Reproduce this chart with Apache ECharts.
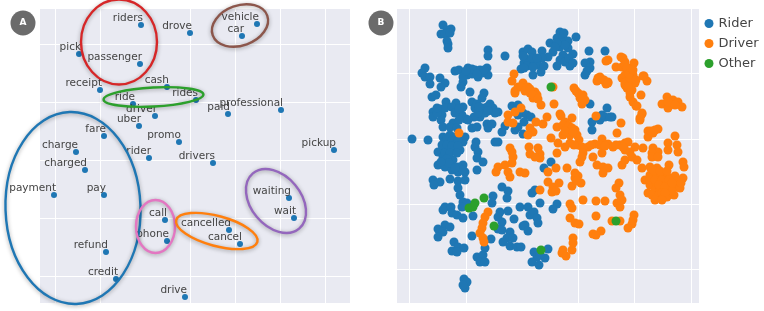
<!DOCTYPE html>
<html><head><meta charset="utf-8">
<style>html,body{margin:0;padding:0;background:#fff}#c{width:764px;height:311px}</style>
<script src="https://cdn.jsdelivr.net/npm/echarts@6/dist/echarts.min.js"></script>
</head><body><div id="c"></div>
<script>
const words = ['riders','drove','pick','passenger','receipt','cash','rides','ride','driver','uber','fare','promo','charge','rider','drivers','charged','payment','pay','call','phone','refund','credit','drive','vehicle','car','paid','professional','pickup','waiting','wait','cancelled','cancel'];
const wordX = [101,150,39,100,60,127,156,93,115,99,64,139,36,109,173,45,14,64,125,127,66,76,145,217,202,188,241,294,249,254,189,200];
const wordY = [278,270,249,239,213,216,203,199,187,177,167,161,151,145,140,133,108,108,83,62,51,24,6,279,267,189,193,153,105,85,73,59];

// Hand-drawn circles around word groups: centre, radii, tilt in degrees, colour
const circleX = [79,200,113.5,33,115.5,176.8,236];
const circleY = [261,277.5,206,95,76.5,72,102];
const circleRx = [38,29,50,67.5,19.5,42,36];
const circleRy = [42.5,20,9.5,96,26.5,15,25];
const circleTilt = [0,20,3,2,0,-15,-50];
const circleColor = ['#d62728','#8c564b','#2ca02c','#1f77b4','#e377c2','#ff7f0e','#9467bd'];

const riderPts = [[46,278],[50,273],[54,274],[51,270],[44,269],[48,269],[53,270],[50,262],[51,259],[51,255],[91,253],[91,247],[28,235],[25,230],[28,226],[33,226],[33,219],[58,232],[62,233],[43,225],[48,220],[44,216],[35,206],[39,208],[49,201],[36,191],[36,186],[43,194],[45,188],[48,195],[44,183],[59,200],[55,196],[66,196],[65,188],[58,190],[56,180],[69,184],[46,176],[53,176],[60,175],[71,235],[70,228],[66,221],[64,216],[73,211],[78,233],[83,233],[81,226],[90,235],[91,228],[85,230],[87,210],[85,205],[75,201],[78,195],[85,195],[93,199],[96,195],[83,186],[77,186],[88,190],[71,183],[75,175],[80,176],[90,179],[91,175],[95,179],[15,164],[31,163],[46,166],[53,168],[58,166],[68,166],[66,161],[48,161],[53,161],[58,160],[45,153],[51,155],[58,153],[63,153],[41,151],[79,161],[78,156],[81,151],[98,161],
[46,146],[56,143],[41,138],[48,136],[66,138],[68,131],[61,131],[55,133],[80,145],[86,141],[80,133],[36,123],[43,121],[37,118],[53,124],[61,122],[68,123],[61,115],[63,108],[66,101],[70,100],[65,96],[105,116],[111,112],[110,105],[96,107],[95,100],[48,96],[54,96],[46,93],[55,90],[60,88],[66,85],[76,87],[103,91],[111,92],[101,86],[105,81],[117,84],[123,96],[48,78],[53,76],[41,74],[46,71],[41,66],[126,77],[101,74],[105,73],[75,67],[94,64],[113,71],[110,65],[106,61],[116,65],[113,57],[120,56],[124,56],[57,61],[61,56],[67,55],[55,52],[60,51],[88,55],[80,46],[86,48],[83,41],[88,41],[67,24],[70,21],[68,15],[66,18],
[163,271],[160,265],[166,265],[171,262],[179,266],[153,260],[163,256],[171,255],[176,249],[108,247],[126,251],[131,254],[135,251],[145,252],[156,251],[166,248],[151,246],[145,245],[128,245],[127,240],[138,241],[133,240],[141,238],[124,234],[136,228],[144,231],[147,237],[160,237],[163,243],[168,241],[173,237],[192,252],[208,252],[193,241],[188,240],[193,235],[190,232],[188,228],[193,199],[210,195],[208,186],[215,186],[203,186],[203,183],[195,181],[195,173],[115,197],[121,198],[126,190],[121,188],[130,188],[134,186],[127,181],[118,173],[121,176],[126,169],[108,177],[105,171],[101,161],[101,191],[98,190],[154,141],[147,135],[138,113],[135,110],[143,100],[160,99],[156,94],[131,96],[133,88],[137,91],[140,85],[141,80],[128,78],[131,72],[137,51],[151,54],[140,46],[148,45],[135,41],[142,38],[143,48],[205,188],[213,186],
[50,165],[55,162],[61,163],[45,158],[50,158],[55,157],[61,157],[48,150],[53,150],[60,150],[50,144],[52,140],[44,141],[61,136],[66,133],[58,135],[80,199],[90,196],[81,190],[91,192],[82,196],[40,190],[40,195],[62,194],[62,183],[75,229],[75,234],[87,233],[66,226],[80,229],[69,232],[130,243],[126,247],[135,245],[140,245],[130,237],[136,236],[127,235],[165,260],[168,258],[160,260],[167,270],[158,256],[172,245],[176,240]];

const driverPts = [[62,170],[91,91],[88,86],[86,80],[85,75],[83,70],[86,65],[87,61],[116,146],[115,140],[108,138],[101,136],[99,131],[111,131],[113,126],[123,131],[211,243],[209,242],[224,246],[219,236],[225,236],[117,229],[115,222],[126,220],[121,216],[118,212],[131,216],[133,210],[138,211],[136,205],[140,208],[144,198],[118,210],[157,199],[156,216],[177,215],[181,210],[186,208],[183,205],[188,203],[185,199],[201,225],[206,223],[211,221],[209,219],[200,222],[225,225],[228,218],[199,187],[224,180],[220,170],[124,195],[118,191],[111,188],[111,181],[116,180],[133,175],[136,171],[131,168],[139,181],[146,179],[150,186],[163,189],[164,187],[175,185],[168,181],[160,176],[168,175],[178,173],[166,168],[173,168],[180,168],[154,165],[161,160],[173,160],[168,156],[181,158],[185,156],[191,156],[198,159],[205,164],[211,159],[216,156],[223,158],[228,160],[113,155],[115,151],[132,156],[141,155],[133,149],[143,149],[160,150],[186,150],[205,150],
[228,241],[237,240],[231,235],[236,228],[228,228],[247,227],[250,222],[238,220],[231,223],[230,215],[235,213],[244,208],[233,206],[236,201],[240,197],[228,220],[270,206],[265,199],[271,195],[276,203],[281,201],[285,196],[271,201],[278,198],[245,189],[243,183],[261,174],[251,172],[256,170],[251,166],[278,167],[271,160],[280,158],[281,151],[271,153],[231,161],[238,156],[246,155],[256,155],[261,151],[233,151],[228,153],[255,150],
[128,130],[151,131],[159,135],[170,135],[143,145],[138,146],[183,141],[185,146],[196,146],[200,138],[206,136],[211,135],[206,130],[225,138],[228,143],[235,146],[245,135],[240,143],[255,146],[261,146],[181,127],[178,125],[184,120],[175,117],[151,121],[156,116],[162,120],[155,111],[159,112],[143,113],[186,103],[199,102],[208,102],[173,99],[175,95],[222,120],[219,115],[223,108],[225,103],[220,100],[223,96],[173,85],[178,80],[182,79],[199,87],[215,82],[223,82],[237,88],[236,83],[235,79],[231,75],[196,69],[204,72],[199,68],[176,65],[176,60],[175,53],[166,53],[165,50],[169,47],
[253,136],[260,135],[272,138],[286,141],[287,136],[248,123],[256,128],[265,128],[271,126],[278,127],[286,125],[253,118],[260,118],[266,120],[273,118],[280,116],[283,115],[251,110],[258,113],[263,113],[270,113],[265,106],[270,106],[277,108],[261,123],[268,123],
[226,245],[228,238],[235,231],[246,227],[235,223],[231,216],[233,210],[239,197],[245,190],[243,185],[207,223],[211,220],[203,226],
[253,128],[260,128],[253,123],[258,123],[265,123],[272,123],[262,118],[268,116],[275,112],[255,108],[262,108],[265,110],[268,110],[256,133],[263,132],[270,132],[280,122],[284,120],[275,120],[258,103],[265,103],[124,216],[128,212],[133,214],[136,208],[141,204],[179,212],[183,208],[186,204],[166,178],[172,177],[175,175],[168,172],[176,171],[182,163],[177,158],[194,158],[203,158],[208,157],[219,158],[226,156],[178,130],[180,122],[254,172],[258,173],[230,235],[233,225],[232,229],[236,233],[239,223]];

const otherPts = [[72,95],[76,96],[78,100],[87,105],[97,77],[154,216],[144,53],[219,82]];

const gridAX = [15,60,150.5,195.7,240.4,285.3];
const gridAY = [27,85,143,201,259];
const gridBX = [12.6,68.8,181,237.5,294];
const gridBY = [34,99,164,230];

const panelTags = ['A','B'];
const textFont = '"DejaVu Sans", sans-serif';

function axis(idx, max, ticks){
  return {type:'value', gridIndex:idx, min:0, max:max, show:true,
    axisLine:{show:false}, axisLabel:{show:false},
    axisTick:{show:false, customValues:ticks},
    splitLine:{show:true, lineStyle:{color:'#ffffff', width:1}}};
}

const chart = echarts.init(document.getElementById('c'), null, {renderer:'canvas'});
chart.setOption({
  animation:false,
  backgroundColor:'#fff',
  textStyle:{fontFamily:textFont},
  grid:[
    {left:40, top:9, width:310, height:294, show:true, backgroundColor:'#e9eaf2', borderWidth:0},
    {left:397, top:9, width:302, height:294, show:true, backgroundColor:'#e9eaf2', borderWidth:0}
  ],
  xAxis:[axis(0,310,gridAX), axis(1,302,gridBX)],
  yAxis:[axis(0,294,gridAY), axis(1,294,gridBY)],
  legend:{
    data:['Rider','Driver','Other'], orient:'vertical', left:699.5, top:12,
    itemWidth:9, itemHeight:9, itemGap:7, icon:'circle',
    textStyle:{fontSize:13, color:'#444', fontFamily:textFont}
  },
  series:[
    {type:'scatter', name:'Words', xAxisIndex:0, yAxisIndex:0, symbolSize:6, z:3,
     itemStyle:{color:'#1f77b4', opacity:1},
     data:words.map((w,i)=>({name:w, value:[wordX[i],wordY[i]]})),
     label:{show:true, position:'left', distance:0, formatter:p=>p.name,
       fontSize:10.5, color:'#444', fontFamily:textFont},
     labelLayout:{hideOverlap:false, dx:5, dy:-7}},
    {type:'custom', name:'Circles', xAxisIndex:0, yAxisIndex:0, z:5, silent:true, clip:false,
     data:circleX.map((x,i)=>[x,circleY[i],circleRx[i],circleRy[i],circleTilt[i],i]),
     renderItem:(params,api)=>{
       const c = api.coord([api.value(0),api.value(1)]);
       const s = api.size([api.value(2),api.value(3)]);
       return {type:'ellipse', x:c[0], y:c[1],
         rotation:api.value(4)*Math.PI/180,
         shape:{cx:0, cy:0, rx:s[0], ry:s[1]},
         style:{fill:'none', stroke:circleColor[api.value(5)], lineWidth:2.4,
           shadowBlur:4, shadowColor:'rgba(0,0,0,0.35)', shadowOffsetX:0, shadowOffsetY:1}};
     }},
    {type:'scatter', name:'Rider', xAxisIndex:1, yAxisIndex:1, symbolSize:9, z:2,
     itemStyle:{color:'#1f77b4', opacity:1}, data:riderPts},
    {type:'scatter', name:'Driver', xAxisIndex:1, yAxisIndex:1, symbolSize:9, z:3,
     itemStyle:{color:'#ff7f0e', opacity:1}, data:driverPts},
    {type:'scatter', name:'Other', xAxisIndex:1, yAxisIndex:1, symbolSize:9, z:4,
     itemStyle:{color:'#2ca02c', opacity:1}, data:otherPts}
  ],
  graphic:[0,1].flatMap(i=>{
    const cx = i===0 ? 23 : 381;
    return [
      {type:'circle', z:10, shape:{cx:cx, cy:23, r:12.5}, style:{fill:'#6b6b6b'}},
      {type:'text', z:11, style:{x:cx, y:23, text:panelTags[i], align:'center', verticalAlign:'middle',
        fill:'#fff', font:'bold 9px '+textFont}}
    ];
  })
});
</script></body></html>
